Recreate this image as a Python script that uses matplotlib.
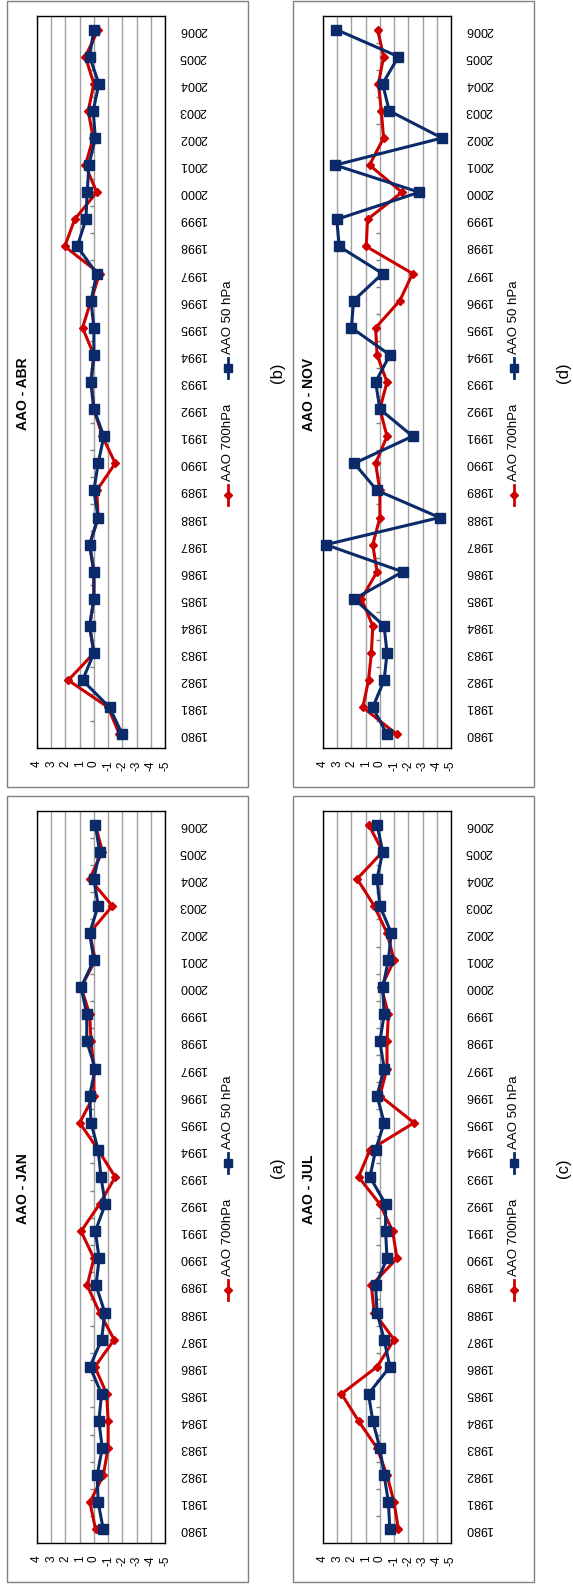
import numpy as np
import matplotlib.pyplot as plt
from matplotlib.lines import Line2D
from matplotlib.patches import Rectangle

plt.rcParams['font.family'] = ['Liberation Sans', 'DejaVu Sans']

years = list(range(1980, 2007))
value_ticks = [4, 3, 2, 1, 0, -1, -2, -3, -4, -5]

# AAO index, 700 hPa and 50 hPa, one value per year
jan_700 = [-0.12, 0.28, -0.66, -1.0, -1.0, -0.9, -0.07, -1.43, -0.4, 0.47, 0.0, 0.9, -0.4, -1.5,
           -0.3, 1.0, 0.0, 0.0, 0.2, 0.3, 0.9, -0.1, 0.3, -1.3, 0.3, -0.6, -0.1]
jan_50 = [-0.66, -0.3, -0.23, -0.59, -0.35, -0.54, 0.28, -0.54, -0.77, -0.15, -0.37, -0.1, -0.8, -0.5,
          -0.3, 0.2, 0.3, -0.1, 0.5, 0.5, 0.9, 0.0, 0.3, -0.3, 0.0, -0.4, -0.1]
abr_700 = [-1.8, -1.0, 1.8, 0.0, 0.3, 0.0, 0.0, 0.3, -0.3, -0.2, -1.5, -0.6, 0.0, 0.2,
           0.0, 0.8, 0.2, -0.4, 2.05, 1.35, -0.2, 0.6, 0.05, 0.4, 0.0, 0.6, -0.3]
abr_50 = [-2.0, -1.1, 0.8, 0.0, 0.3, 0.0, 0.0, 0.3, -0.3, 0.0, -0.3, -0.7, 0.0, 0.2,
          0.0, 0.0, 0.2, -0.2, 1.17, 0.56, 0.47, 0.35, -0.1, 0.05, -0.35, 0.3, 0.0]
jul_700 = [-1.3, -1.0, -0.5, 0.2, 1.5, 2.7, 0.2, -1.0, 0.4, 0.6, -1.2, -0.9, 0.0, 1.5,
           0.7, -2.4, 0.0, -0.5, -0.5, -0.6, -0.1, -1.0, -0.5, 0.4, 1.6, -0.2, 0.8]
jul_50 = [-0.7, -0.6, -0.3, 0.0, 0.5, 0.8, -0.7, -0.3, 0.2, 0.3, -0.5, -0.4, -0.4, 0.7,
          0.3, -0.3, 0.2, -0.3, 0.0, -0.3, -0.2, -0.6, -0.8, 0.0, 0.2, -0.2, 0.2]
nov_700 = [-1.2, 1.2, 0.8, 0.6, 0.5, 1.3, 0.2, 0.5, 0.0, 0.0, 0.3, -0.5, 0.0, -0.5,
           0.2, 0.3, -1.4, -2.3, 0.96, 0.87, -1.55, 0.73, -0.26, -0.1, 0.1, -0.26, 0.16]
nov_50 = [-0.5, 0.5, -0.3, -0.5, -0.3, 1.8, -1.6, 3.8, -4.2, 0.2, 1.8, -2.3, 0.0, 0.3,
          -0.7, 2.0, 1.85, -0.19, 2.86, 3.03, -2.77, 3.15, -4.37, -0.66, -0.19, -1.3, 3.07]

RED = '#cc0000'
BLUE = '#0a2a6a'

W, H = 573, 1585
fig = plt.figure(figsize=(W / 100, H / 100), dpi=100)


def fx(x):
    return x / W


def fy(y):
    return 1 - y / H


panels = [
    ('AAO - ABR', '(b)', abr_700, abr_50, 7, 1),
    ('AAO - NOV', '(d)', nov_700, nov_50, 293, 1),
    ('AAO - JAN', '(a)', jan_700, jan_50, 7, 796),
    ('AAO - JUL', '(c)', jul_700, jul_50, 293, 796),
]

idx = np.arange(len(years))
for title, tag, s700, s50, bx, by in panels:
    bw, bh = 241, 786
    fig.patches.append(Rectangle((fx(bx), fy(by + bh)), bw / W, bh / H,
                                 transform=fig.transFigure, fill=False,
                                 ec='#808080', lw=1))
    px0, py0 = bx + 30, by + 15
    ax = fig.add_axes([fx(px0), fy(py0 + 732), 128 / W, 732 / H])
    ax.plot(s700, idx, color=RED, lw=2.2, marker='D', ms=4.5, zorder=3, clip_on=False)
    ax.plot(s50, idx, color=BLUE, lw=2.2, marker='s', ms=7, zorder=4, clip_on=False)
    ax.set_xlim(4, -5)
    ax.set_ylim(-0.5, 26.5)
    ax.set_xticks(value_ticks)
    ax.set_xticklabels([str(v) for v in value_ticks], rotation=90, va='top')
    ax.xaxis.grid(True, color='#a0a0a0', lw=1)
    ax.set_axisbelow(True)
    ax.yaxis.tick_right()
    ax.set_yticks(idx)
    ax.set_yticklabels([str(y) for y in years], rotation=180, va='center')
    ax.tick_params(axis='y', length=0, pad=10, labelsize=9)
    ax.tick_params(axis='x', length=0, pad=9, labelsize=8.5)
    for s in ax.spines.values():
        s.set_color('black')
        s.set_linewidth(1)
    # category tick marks sitting on the zero line
    ax.hlines(idx[:-1] + 0.5, 0, 0.3, color='#808080', lw=1, zorder=2)

    # title, centred on the chart box
    fig.text(fx(bx + 16), fy(by + bh / 2), title, rotation=90, ha='center', va='center',
             fontsize=10, fontweight='bold')

    # legend, drawn vertically
    lx = bx + 221
    for color, mk, ms, my, label in [(RED, 'D', 4.5, by + 494, 'AAO 700hPa'),
                                     (BLUE, 's', 6, by + 367, 'AAO 50 hPa')]:
        fig.lines.append(Line2D([fx(lx), fx(lx)], [fy(my - 10), fy(my + 10)],
                                transform=fig.transFigure, color=color, lw=2))
        fig.lines.append(Line2D([fx(lx)], [fy(my)], transform=fig.transFigure,
                                color=color, marker=mk, ms=ms))
        fig.text(fx(lx), fy(my - 14), label, rotation=90, ha='center', va='bottom',
                 fontsize=9.5)

    fig.text(fx(bx + 270), fy(by + 372), tag, rotation=90, ha='center', va='center',
             fontsize=12)

fig.savefig('out.png', dpi=100)
